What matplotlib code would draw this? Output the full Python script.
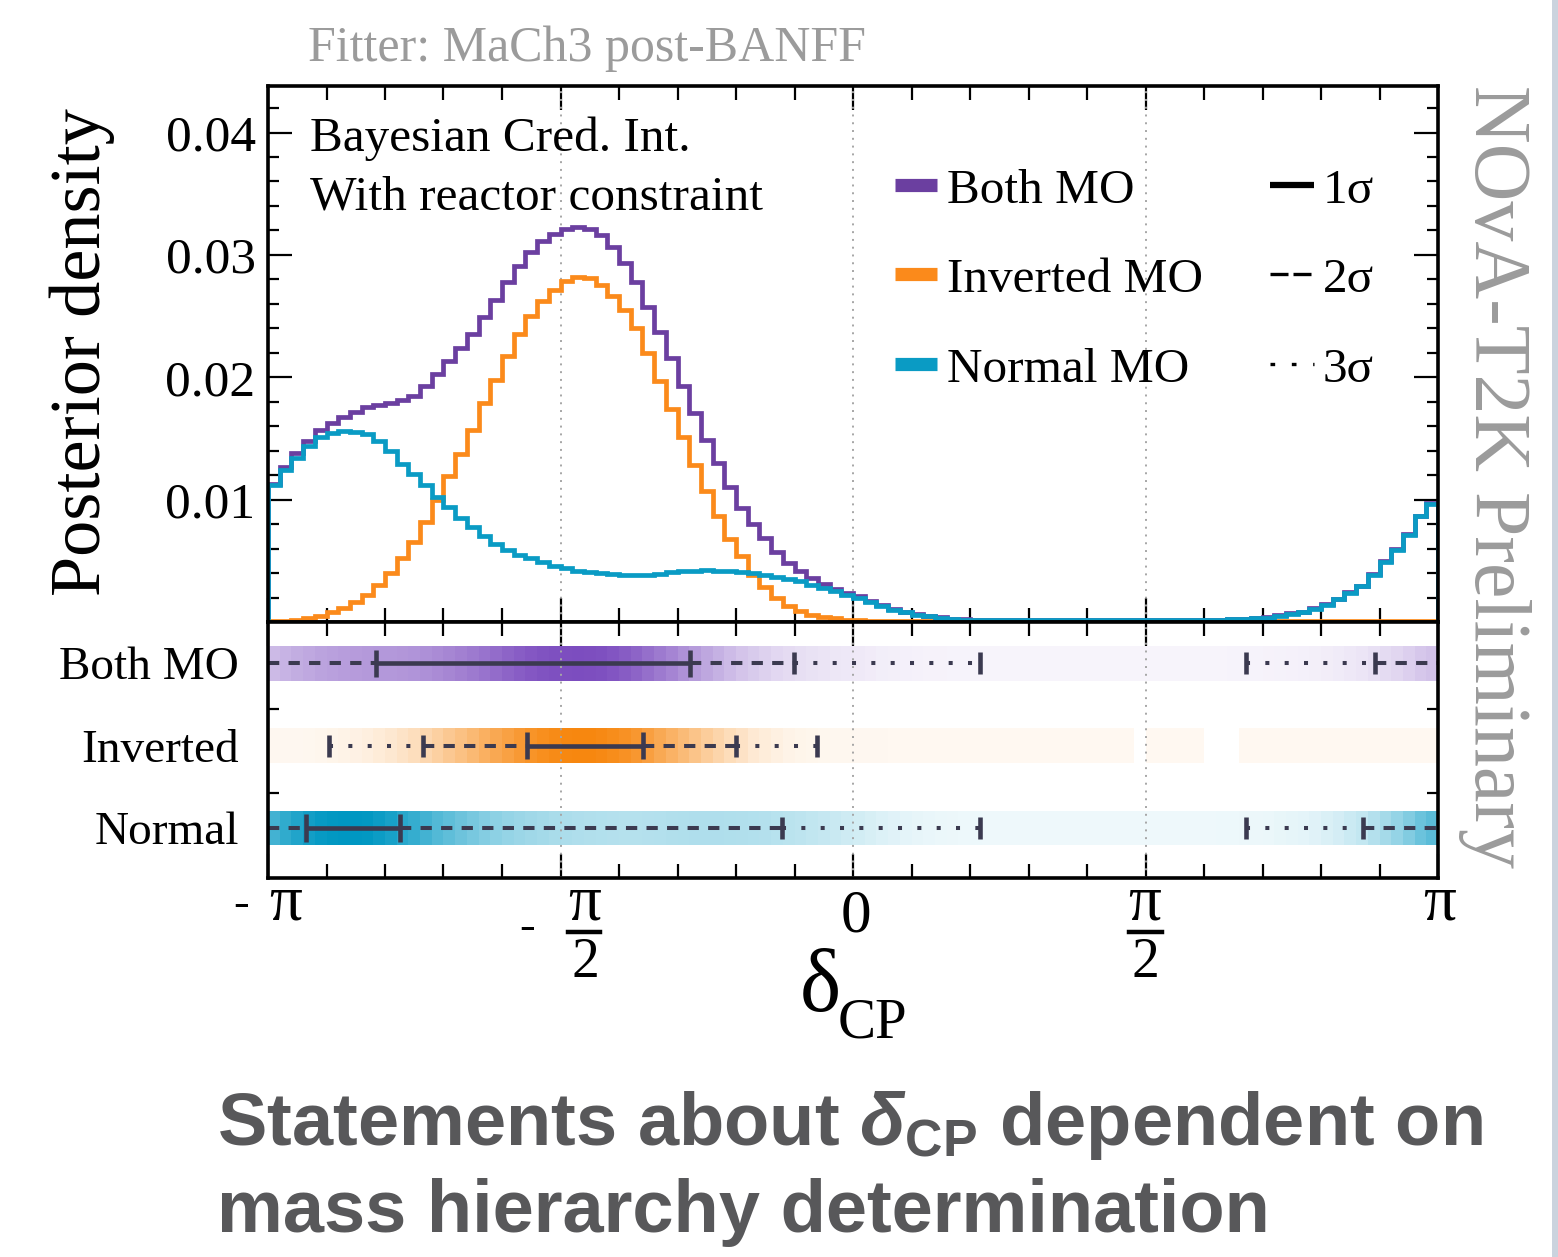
import numpy as np
import matplotlib
matplotlib.use('Agg')
import matplotlib.pyplot as plt
from matplotlib.colors import LinearSegmentedColormap
from matplotlib.lines import Line2D
from matplotlib.patches import Rectangle
from matplotlib.ticker import MultipleLocator, FixedLocator, NullFormatter

# ---------------- data ----------------
n_bins = 100
delta_edges = np.linspace(-np.pi, np.pi, n_bins + 1)

normal_mo = [
    0.0112, 0.01245, 0.0134, 0.0144, 0.0151, 0.01545, 0.01558, 0.01553, 0.0154, 0.0148,
    0.0140, 0.0129, 0.0121, 0.0112, 0.0102, 0.0094, 0.0085, 0.0078, 0.0070, 0.0064,
    0.0059, 0.0055, 0.0052, 0.0049, 0.0046, 0.0044, 0.0042, 0.0041, 0.0040, 0.0039,
    0.00385, 0.00385, 0.00388, 0.00396, 0.00407, 0.00415, 0.0042, 0.00423, 0.0042, 0.00415,
    0.0041, 0.0040, 0.00388, 0.00369, 0.00352, 0.00333, 0.00306, 0.00279, 0.00251, 0.00224,
    0.00197, 0.00162, 0.00129, 0.00102, 0.0008, 0.0006, 0.00045, 0.00035, 0.00026, 0.0002,
    0.00018, 0.00017, 0.00016, 0.00015, 0.00015, 0.00014, 0.00014, 0.00014, 0.00013, 0.00013,
    0.00013, 0.00013, 0.00013, 0.00013, 0.00013, 0.00013, 0.00014, 0.00014, 0.00015, 0.00016,
    0.00017, 0.00019, 0.00022, 0.00026, 0.0003, 0.00035, 0.00053, 0.00067, 0.0008, 0.00107,
    0.00143, 0.00184, 0.00238, 0.00292, 0.00388, 0.00488, 0.00592, 0.00714, 0.00864, 0.00967,
]

inverted_mo = [
    0.0001, 0.0001, 0.00015, 0.0003, 0.00053, 0.0008, 0.00116, 0.00162, 0.00224, 0.00306,
    0.0040, 0.00524, 0.0065, 0.00815, 0.0100, 0.0119, 0.01375, 0.0157, 0.0179, 0.0198,
    0.0217, 0.02355, 0.0250, 0.02627, 0.02714, 0.0279, 0.02818, 0.0281, 0.02755, 0.02665,
    0.02551, 0.0240, 0.0220, 0.01966, 0.01743, 0.0151, 0.01286, 0.0107, 0.00864, 0.0068,
    0.00537, 0.0038, 0.00287, 0.00197, 0.00129, 0.00088, 0.00056, 0.0004, 0.0003, 0.0002,
    0.00015, 0.0001, 0.00008, 0.00007, 0.00006, 0.00005, 0.00005, 0.00005, 0.00005, 0.00005,
    0.00005, 0.00005, 0.00005, 0.00005, 0.00005, 0.00005, 0.00005, 0.00005, 0.00005, 0.00005,
    0.00005, 0.00005, 0.00005, 0.00005, 0.0, 0.00005, 0.00005, 0.00005, 0.00005, 0.00005,
    0.0, 0.0, 0.0, 0.00005, 0.00005, 0.00005, 0.00005, 0.00005, 0.00005, 0.00005,
    0.00005, 0.00005, 0.00005, 0.00005, 0.00005, 0.00005, 0.00005, 0.00005, 0.00005, 0.00005,
]

both_mo = [
    0.0113, 0.01267, 0.0138, 0.01476, 0.01566, 0.01626, 0.01675, 0.0172, 0.01757, 0.01776,
    0.0179, 0.01816, 0.01849, 0.0193, 0.0203, 0.0213, 0.02238, 0.02355, 0.0249, 0.02633,
    0.02782, 0.0291, 0.0302, 0.03117, 0.03171, 0.0321, 0.03226, 0.0321, 0.03163, 0.03068,
    0.02937, 0.02782, 0.02578, 0.02366, 0.02157, 0.01925, 0.01705, 0.0149, 0.01297, 0.011,
    0.00932, 0.00804, 0.00687, 0.0057, 0.00483, 0.00415, 0.0036, 0.00314, 0.00271, 0.00238,
    0.0021, 0.0017, 0.00135, 0.00106, 0.00084, 0.00063, 0.00048, 0.00037, 0.00028, 0.00022,
    0.0002, 0.00019, 0.00018, 0.00017, 0.00017, 0.00016, 0.00016, 0.00016, 0.00015, 0.00015,
    0.00015, 0.00015, 0.00015, 0.00015, 0.00014, 0.00015, 0.00016, 0.00016, 0.00017, 0.00018,
    0.00018, 0.0002, 0.00023, 0.00028, 0.00033, 0.0004, 0.00058, 0.00072, 0.00085, 0.00112,
    0.00148, 0.0019, 0.00243, 0.00297, 0.00393, 0.00495, 0.00597, 0.0072, 0.0087, 0.00972,
]

row_labels = ['Both MO', 'Inverted', 'Normal']
legend_labels = ['Both MO', 'Inverted MO', 'Normal MO']
sigma_labels = ['1σ', '2σ', '3σ']

# credible intervals (radians), wrapped intervals split at +-pi
both_intervals = {
    1: [(-2.562, -0.875)],
    2: [(-np.pi, -0.317), (2.801, np.pi)],
    3: [(-np.pi, 0.682), (2.111, np.pi)],
}
inverted_intervals = {
    1: [(-1.751, -1.128)],
    2: [(-2.309, -0.626)],
    3: [(-2.814, -0.193)],
}
normal_intervals = {
    1: [(-2.938, -2.434)],
    2: [(-np.pi, -0.381), (2.739, np.pi)],
    3: [(-np.pi, 0.682), (2.111, np.pi)],
}

# ---------------- style ----------------
C_BOTH, C_INV, C_NORM = '#6b3fa0', '#fb8a1b', '#0a9bc4'
B_BOTH, B_INV, B_NORM = '#7c4dbf', '#f7870f', '#0097c2'
C_INT = '#3b3a50'
GRID_C = '#a6a6a6'
SERIF = ['Liberation Serif', 'DejaVu Serif']

plt.rcParams['font.family'] = SERIF
plt.rcParams['mathtext.fontset'] = 'custom'
plt.rcParams['mathtext.rm'] = 'Liberation Sans:bold'
plt.rcParams['mathtext.it'] = 'Liberation Sans:italic:bold'
plt.rcParams['mathtext.bf'] = 'Liberation Sans:bold'

W, H = 1558, 1257
fig = plt.figure(figsize=(W / 100, H / 100), dpi=100)
fig.patch.set_facecolor('white')
L, R = 268 / W, 1438 / W
ax1 = fig.add_axes([L, 1 - 622 / H, R - L, (622 - 86) / H])
ax2 = fig.add_axes([L, 1 - 878 / H, R - L, (878 - 622) / H], sharex=ax1)

major_x = [-np.pi, -np.pi / 2, 0, np.pi / 2, np.pi]
for ax in (ax1, ax2):
    ax.set_xlim(-np.pi, np.pi)
    ax.xaxis.set_major_locator(FixedLocator(major_x))
    ax.xaxis.set_minor_locator(MultipleLocator(np.pi / 10))
    ax.xaxis.set_major_formatter(NullFormatter())
    for s in ax.spines.values():
        s.set_linewidth(2.6)
        s.set_zorder(10)
    for xv in (-np.pi / 2, 0, np.pi / 2):
        ax.axvline(xv, color=GRID_C, ls=(0, (1, 3)), lw=1.4, zorder=2)
    ax.tick_params(axis='x', which='both', direction='in', top=True, bottom=True,
                   width=1.6, labelbottom=False)
    ax.tick_params(axis='x', which='major', length=17)
    ax.tick_params(axis='x', which='minor', length=10)

# ---------------- top panel ----------------
ax1.stairs(both_mo, delta_edges, color=C_BOTH, lw=3.4, zorder=3)
ax1.stairs(inverted_mo, delta_edges, color=C_INV, lw=3.4, zorder=4)
ax1.stairs(normal_mo, delta_edges, color=C_NORM, lw=3.4, zorder=5)
ax1.set_ylim(0, 0.0438)
ax1.set_yticks([0.01, 0.02, 0.03, 0.04])
ax1.set_yticklabels(['0.01', '0.02', '0.03', '0.04'], fontsize=37)
ax1.yaxis.set_minor_locator(MultipleLocator(0.002))
ax1.tick_params(axis='y', which='both', direction='in', left=True, right=True, width=1.6, pad=9)
ax1.tick_params(axis='y', which='major', length=17)
ax1.tick_params(axis='y', which='minor', length=8)

ax1.text(0.036, (622 - 151) / 536, 'Bayesian Cred. Int.', transform=ax1.transAxes,
         fontsize=35.5, va='baseline', ha='left', zorder=6)
ax1.text(0.036, (622 - 210) / 536, 'With reactor constraint', transform=ax1.transAxes,
         fontsize=35.5, va='baseline', ha='left', zorder=6)

# legend (manual)
leg_rows_y = [185, 274, 364]
leg_base_y = [203, 292, 382]
for lab, col, yc, yb in zip(legend_labels, [C_BOTH, C_INV, C_NORM], leg_rows_y, leg_base_y):
    ax1.add_line(Line2D([(895 - 268) / 1170, (937 - 268) / 1170], [(622 - yc) / 536] * 2,
                        transform=ax1.transAxes, color=col, lw=9.5, solid_capstyle='butt', zorder=6))
    ax1.text((947 - 268) / 1170, (622 - yb) / 536, lab, transform=ax1.transAxes,
             fontsize=35.5, va='baseline', ha='left', zorder=6)
sig_styles = ['-', (0, (5.4, 1.5, 5.4, 1.5, 1, 8)), (0, (1.4, 5))]
sig_lw = [4.5, 2.4, 2.4]
for lab, ls, lw, yc, yb in zip(sigma_labels, sig_styles, sig_lw, leg_rows_y, leg_base_y):
    ax1.add_line(Line2D([(1270 - 268) / 1170, (1314 - 268) / 1170], [(622 - yc) / 536] * 2,
                        transform=ax1.transAxes, color='black', lw=lw, ls=ls,
                        solid_capstyle='butt', dash_capstyle='butt', zorder=6))
    ax1.text((1323 - 268) / 1170, (622 - yb) / 536, lab, transform=ax1.transAxes,
             fontsize=35.5, va='baseline', ha='left', zorder=6)

# ---------------- bottom panel ----------------
row_pos = [3, 2, 1]
band_h = 0.42
ax2.set_ylim(0.394, 3.5)


def band_alpha(vals):
    v = np.asarray(vals, dtype=float)
    a = 0.06 + 0.94 * v / v.max()
    return np.ma.masked_where(v <= 0, a)


def subtract(outer, inner):
    segs = []
    for lo, hi in outer:
        cur = [(lo, hi)]
        for ilo, ihi in inner:
            new = []
            for a, b in cur:
                if ihi <= a or ilo >= b:
                    new.append((a, b))
                    continue
                if ilo > a:
                    new.append((a, ilo))
                if ihi < b:
                    new.append((ihi, b))
            cur = new
        segs += cur
    return segs


styles = {1: dict(ls='-', lw=3.3),
          2: dict(ls=(0, (2.8, 2.3)), lw=2.9),
          3: dict(ls=(0, (1.0, 3.8)), lw=2.9)}
cap_h = {1: 0.33, 2: 0.27, 3: 0.27}

for y, vals, bcol, ints in zip(row_pos, [both_mo, inverted_mo, normal_mo],
                               [B_BOTH, B_INV, B_NORM],
                               [both_intervals, inverted_intervals, normal_intervals]):
    cmap = LinearSegmentedColormap.from_list('band', ['#ffffff', bcol])
    ax2.pcolormesh(delta_edges, [y - band_h / 2, y + band_h / 2], band_alpha(vals)[None, :],
                   cmap=cmap, vmin=0, vmax=1, shading='flat', zorder=1, antialiased=False)
    for lvl in (1, 2, 3):
        inner = ints[lvl - 1] if lvl > 1 else []
        for a, b in subtract(ints[lvl], inner):
            ax2.plot([a, b], [y, y], color=C_INT, solid_capstyle='butt',
                     dash_capstyle='butt', zorder=3, **styles[lvl])
    for lvl in (3, 2, 1):
        for a, b in ints[lvl]:
            for edge in (a, b):
                if abs(abs(edge) - np.pi) > 1e-6:
                    ax2.plot([edge, edge], [y - cap_h[lvl] / 2, y + cap_h[lvl] / 2],
                             color=C_INT, lw=3.3, solid_capstyle='butt', zorder=4)

ax2.set_yticks(row_pos)
ax2.set_yticklabels(row_labels, fontsize=34)
ax2.tick_params(axis='y', which='major', length=0, pad=21)
ax2.yaxis.set_minor_locator(FixedLocator([2.45, 1.43]))
ax2.tick_params(axis='y', which='minor', direction='in', left=True, right=True, length=8, width=1.6)

# ---------------- x tick labels (ROOT style) ----------------
def ft(x, y, s, **kw):
    fig.text(x / W, 1 - y / H, s, **kw)

ft(241, 905, '-', fontsize=34, ha='center', va='center')
ft(286, 919, 'π', fontsize=47, ha='center', va='baseline')
ft(527, 928, '-', fontsize=34, ha='center', va='center')
ft(585, 919, 'π', fontsize=47, ha='center', va='baseline')
fig.add_artist(Line2D([568 / W, 600 / W], [1 - 932 / H] * 2, color='black', lw=3.2))
ft(585, 977, '2', fontsize=40, ha='center', va='baseline')
ft(856, 931, '0', fontsize=44, ha='center', va='baseline')
ft(1145, 919, 'π', fontsize=47, ha='center', va='baseline')
fig.add_artist(Line2D([1129 / W, 1162 / W], [1 - 932 / H] * 2, color='black', lw=3.2))
ft(1145, 977, '2', fontsize=40, ha='center', va='baseline')
ft(1440, 919, 'π', fontsize=47, ha='center', va='baseline')

ft(820, 1011, 'δ', fontsize=63, ha='center', va='baseline')
ft(838, 1037, 'CP', fontsize=41, ha='left', va='baseline')

ft(82, 352, 'Posterior density', fontsize=52, rotation=90, ha='center', va='center')
ft(308, 61, 'Fitter: MaCh3 post-BANFF', fontsize=36, color='#9b9b9b', ha='left', va='baseline')
ft(1495, 85, 'NOvA-T2K Preliminary', fontsize=57.5, color='#9b9b9b', rotation=-90,
   ha='center', va='top')

fig.add_artist(Rectangle((1552 / W, 0), 6 / W, 1, transform=fig.transFigure,
                         color='#cbd3de', lw=0))

title_kw = dict(fontsize=53.4, color='#58585a', fontweight='bold',
                family=['Liberation Sans', 'DejaVu Sans'], ha='left', va='baseline')
ft(217, 1145, r'Statements about $\delta_{\mathrm{CP}}$ dependent on', **title_kw)
ft(217, 1232, 'mass hierarchy determination', **title_kw)

fig.savefig('out.png', dpi=100)
